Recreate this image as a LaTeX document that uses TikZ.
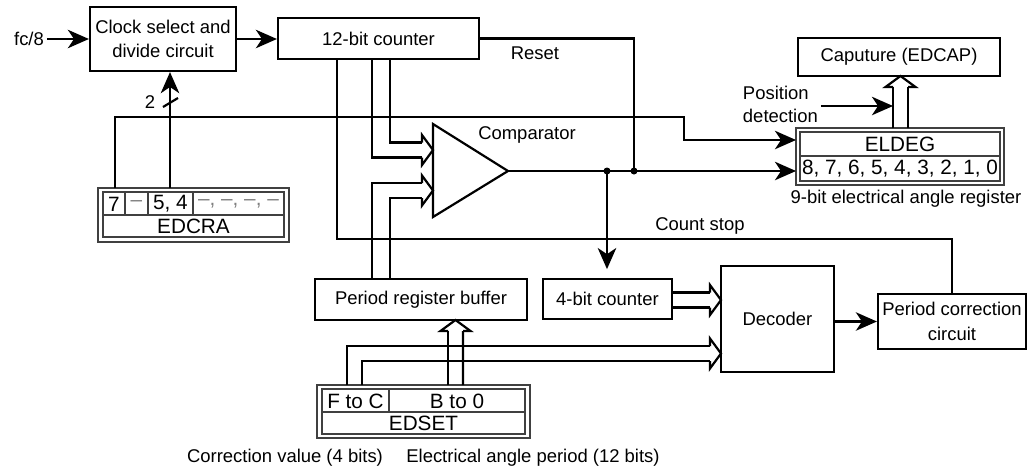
\documentclass[tikz,border=0pt]{standalone}
\usepackage{fontspec}
\setmainfont{Liberation Sans}
\usetikzlibrary{arrows.meta,calc}

\tikzset{
  blk/.style={draw,line width=1.25pt,inner sep=0pt,align=center,font=\fontsize{10.5}{13.8}\selectfont},
  regframe/.style={draw=black!75,line width=0.75pt},
  regtxt/.style={inner sep=0pt,font=\fontsize{11.8}{13}\selectfont},
  lbl/.style={inner sep=1.5pt,font=\fontsize{10.5}{13.2}\selectfont},
  wire/.style={line width=1.25pt},
  arr/.style={wire,-{Stealth[length=12pt,width=10.5pt,inset=3.5pt]}},
  bus/.pic={\draw[wire] (-11,-7.5) -- (-11,-15) -- (0,0) -- (-11,15) -- (-11,7.5);}
}

\begin{document}
\begin{tikzpicture}[x=0.02cm,y=-0.02cm]
\useasboundingbox (0,0) rectangle (1029,474);
\node[lbl] (fc) at (29,39) {fc/8};
\node[blk,minimum width=2.92cm,minimum height=1.28cm] (clk) at (163,39) {Clock select and\\divide circuit};
\node[blk,minimum width=4.02cm,minimum height=0.82cm] (cnt) at (378.5,38.5) {12-bit counter};
\node[blk,minimum width=4.04cm,minimum height=0.76cm] (cap) at (899,57) {Caputure (EDCAP)};
\node[blk,minimum width=4.24cm,minimum height=0.82cm] (buf) at (421,299.5) {Period register buffer};
\node[blk,minimum width=2.58cm,minimum height=0.8cm] (cnt4) at (607.5,299) {4-bit counter};
\node[blk,minimum width=2.26cm,minimum height=2.12cm] (dec) at (777.5,319) {Decoder};
\node[blk,minimum width=2.96cm,minimum height=1.1cm] (pcc) at (952,321.5) {Period correction\\circuit};

\draw[regframe] (98,188) rectangle (289,242) (103,192) rectangle (284,237)
  (103,215) -- (284,215) (125,192) -- (125,215) (148,192) -- (148,215) (193,192) -- (193,215);
\node[regtxt] at (114,204) {7};
\node[regtxt,text=black!50] at (136.5,204) {--};
\node[regtxt] at (170.5,204) {5, 4};
\node[regtxt,text=black!50] at (238.5,204) {--, --, --, --};
\node[regtxt] (edcra) at (193.5,226.5) {EDCRA};

\draw[regframe] (796,128) rectangle (1004,185) (800,132) rectangle (1000,181) (800,156) -- (1000,156);
\node[regtxt] (eldeg) at (900,144.5) {ELDEG};
\node[regtxt] at (900,169) {8, 7, 6, 5, 4, 3, 2, 1, 0};

\draw[regframe] (317,385) rectangle (530,438) (322,389) rectangle (525,434)
  (322,412) -- (525,412) (389,389) -- (389,412);
\node[regtxt] at (355.5,401) {F to C};
\node[regtxt] at (457,401) {B to 0};
\node[regtxt] (edset) at (423.5,423.5) {EDSET};

\node[lbl] at (535,53) {Reset};
\node[lbl] at (527,135) {Comparator};
\node[lbl] at (700,226) {Count stop};
\node[lbl] at (906,199) {9-bit electrical angle register};
\node[lbl,align=left,anchor=west] (pos) at (740,104) {Position\\detection};
\node[lbl] at (285,458) {Correction value (4 bits)};
\node[lbl] at (533,458) {Electrical angle period (12 bits)};
\node[lbl] at (150,102) {2};

\coordinate (cmpout) at (508,171);
\draw[wire] (433,124) -- (cmpout) -- (433,217) -- cycle;

\coordinate (cmpA) at (433,150);
\coordinate (cmpB) at (433,190.5);
\coordinate (tap) at (607,171);
\coordinate (rst) at (634,171);
\coordinate (eldegA) at (796,140);
\coordinate (eldegB) at (796,171);
\coordinate (bend) at (684,117);
\coordinate (csbend) at (337,239);
\coordinate (capA) at (900.5,76);
\coordinate (bufA) at (455.5,320);
\coordinate (decA) at (721,300);
\coordinate (decB) at (721,353.5);
\coordinate (posend) at (893,106);
\coordinate (b7) at (115,188);
\coordinate (b54) at (170,188);
\coordinate (e1) at (347,385);
\coordinate (e2) at (362,385);
\coordinate (e3) at (448,385);
\coordinate (e4) at (463,385);

\draw[arr] (fc) -- (clk);
\draw[arr] (clk.east) -- (clk.east -| cnt.west);
\draw[wire] (cnt.east) -| (rst);
\draw[arr] (cmpout) -- (eldegB);
\fill (tap) circle (3.5) (rst) circle (3.5);
\draw[arr,shorten >=5pt] (tap) -- (tap |- cnt4.north);
\draw[arr] (b7) |- (bend) |- (eldegA);
\draw[arr] (b54) -- (b54 |- clk.south);
\draw[wire] (163,107) -- (178,98);
\draw[wire] (pcc.north) |- (csbend) -- (csbend |- cnt.south);
\draw[arr] (dec.east |- pcc.west) -- (pcc.west);

\draw[wire] ($(cnt.south)+(11.5,0)$) |- ($(cmpA)+(-11,-7.5)$);
\draw[wire] ($(cnt.south)+(-6.5,0)$) |- ($(cmpA)+(-11,7.5)$);
\draw[wire] ($(buf.north)+(-49,0)$) |- ($(cmpB)+(-11,-7.5)$);
\draw[wire] ($(buf.north)+(-31,0)$) |- ($(cmpB)+(-11,7.5)$);
\pic at (cmpA) {bus};
\pic at (cmpB) {bus};
\draw[wire] (e3) -- ($(bufA)+(-7.5,11)$);
\draw[wire] (e4) -- ($(bufA)+(7.5,11)$);
\pic[rotate=90] at (bufA) {bus};
\draw[wire] (e1) |- ($(decB)+(-11,-7.5)$);
\draw[wire] (e2) |- ($(decB)+(-11,7.5)$);
\pic at (decB) {bus};
\draw[wire] ($(decA)+(-11,-7.5)$) coordinate (d1) -- (d1 -| cnt4.east);
\draw[wire] ($(decA)+(-11,7.5)$) coordinate (d2) -- (d2 -| cnt4.east);
\pic at (decA) {bus};
\draw[wire] ($(capA)+(-7.5,52)$) -- ($(capA)+(-7.5,11)$);
\draw[wire] ($(capA)+(7.5,52)$) -- ($(capA)+(7.5,11)$);
\pic[rotate=90] at (capA) {bus};
\draw[arr] (posend -| pos.east) -- (posend);
\end{tikzpicture}
\end{document}
